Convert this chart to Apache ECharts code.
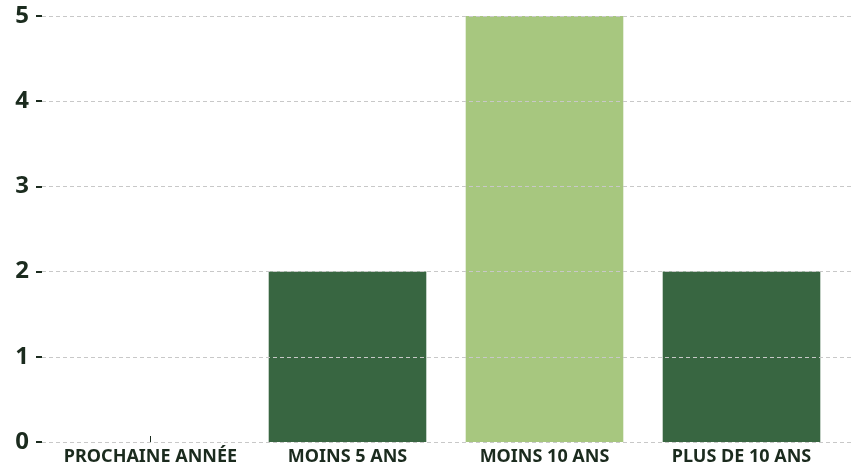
<!DOCTYPE html>
<html>
<head>
<meta charset="utf-8">
<script src="https://cdn.jsdelivr.net/npm/echarts@6/dist/echarts.min.js"></script>
<style>
  html, body { margin: 0; padding: 0; background: #fff; }
  #main { width: 852px; height: 471px; }
</style>
</head>
<body>
<div id="main"></div>
<script>
// données
var categories = ['PROCHAINE ANNÉE', 'MOINS 5 ANS', 'MOINS 10 ANS', 'PLUS DE 10 ANS'];
var values = [0, 2, 5, 2];
var barColors = ['#386641', '#386641', '#a7c77f', '#386641'];
var yTicks = [0, 1, 2, 3, 4, 5];

var textColor = '#1b2b1e';
var font = '"Noto Sans", sans-serif';

var myChart = echarts.init(document.getElementById('main'));

var option = {
  animation: false,
  grid: [
    // grille des barres
    { left: 52, right: 12, top: 16, bottom: 29 },
    // grille pour les lignes de repère et l'axe Y
    { left: 42, right: 0, top: 16, bottom: 29 }
  ],
  xAxis: [
    {
      type: 'category',
      gridIndex: 0,
      data: categories,
      axisLine: { show: false },
      axisTick: {
        show: true,
        inside: true,
        alignWithLabel: true,
        length: 6,
        lineStyle: { color: textColor, width: 1 }
      },
      axisLabel: {
        color: textColor,
        fontFamily: font,
        fontWeight: 'bold',
        fontSize: 18,
        margin: 6,
        interval: 0
      }
    },
    {
      type: 'value',
      gridIndex: 1,
      show: false
    }
  ],
  yAxis: [
    {
      type: 'value',
      gridIndex: 0,
      min: 0,
      max: 5,
      interval: 1,
      show: false
    },
    {
      type: 'value',
      gridIndex: 1,
      min: yTicks[0],
      max: yTicks[yTicks.length - 1],
      interval: 1,
      z: 3,
      axisLine: { show: false },
      axisTick: {
        show: true,
        length: 6,
        lineStyle: { color: textColor, width: 2 }
      },
      axisLabel: {
        color: textColor,
        fontFamily: font,
        fontWeight: 'bold',
        fontSize: 24,
        margin: 13
      },
      splitLine: {
        show: true,
        lineStyle: { color: '#c8c8c8', type: [4, 3], width: 1 }
      }
    }
  ],
  series: [
    {
      type: 'bar',
      xAxisIndex: 0,
      yAxisIndex: 0,
      barCategoryGap: '20%',
      data: values.map(function (v, i) {
        return { value: v, itemStyle: { color: barColors[i] } };
      })
    }
  ]
};

myChart.setOption(option);
</script>
</body>
</html>
